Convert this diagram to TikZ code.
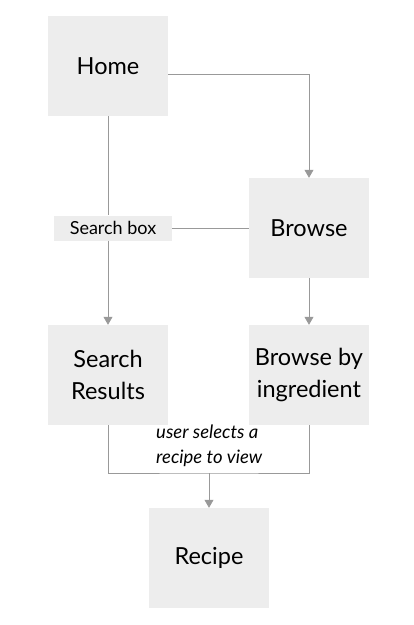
\documentclass[tikz,border=0pt]{standalone}
\usepackage{fontspec}
\setmainfont{Lato}
\usetikzlibrary{arrows.meta}
\definecolor{boxgray}{HTML}{EDEDED}
\definecolor{linegray}{HTML}{999999}

\begin{document}
\begin{tikzpicture}[x=1pt,y=-1pt,
  page/.style={fill=boxgray, minimum width=120pt, minimum height=100pt, inner sep=0pt, align=center, font=\fontsize{23.5}{32}\selectfont},
  tag/.style={fill=boxgray, minimum width=118pt, minimum height=25pt, inner sep=0pt, font=\fontsize{18}{20}\selectfont},
  link/.style={draw=linegray, line width=0.8pt},
  tip/.style={-{Triangle[width=9pt,length=8pt]}}]
\useasboundingbox (0,0) rectangle (414,625);
\node[page] (home) at (108,66) {Home};
\node[page] (browse) at (309,228) {Browse};
\node[page] (results) at (108,375) {Search\\Results};
\node[page] (ingr) at (309,375) {Browse by\\ingredient};
\node[page] (recipe) at (209,558) {Recipe};
\node[tag] (sbox) at (113,228) {Search box};
\coordinate (join) at (209,473);
\node[font=\itshape\fontsize{18.5}{25}\selectfont, align=left, anchor=north west, inner sep=0pt] (note) at (156,425) {user selects a\\recipe to view};
% links between pages
\draw[link,tip] ([yshift=-8pt]home.east) -| (browse.north);
\draw[link] (home.south) -- (home.south|-sbox.north);
\draw[link,tip] (home.south|-sbox.south) -- (results.north);
\draw[link] (sbox.east) -- (browse.west);
\draw[link,tip] (browse.south) -- (ingr.north);
\draw[link] (results.south) |- (join) -| (ingr.south);
\draw[link,tip] (join) -- (recipe.north);
\end{tikzpicture}
\end{document}
